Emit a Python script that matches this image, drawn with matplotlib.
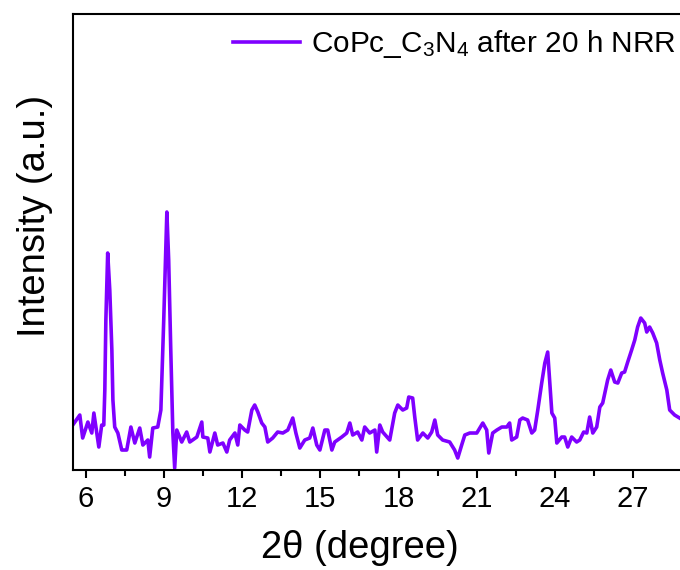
import numpy as np
import matplotlib
matplotlib.use('Agg')
import matplotlib.pyplot as plt

plt.rcParams['font.family'] = ['Liberation Sans', 'DejaVu Sans']
plt.rcParams['mathtext.default'] = 'regular'

# XRD pattern: 2theta (degree), intensity (a.u.)
two_theta = [5.50, 5.77, 5.88, 6.08, 6.23, 6.31, 6.50, 6.61, 6.69, 6.73, 6.77, 6.84, 6.92,
             7.00, 7.04, 7.11, 7.23, 7.38, 7.57, 7.73, 7.88, 8.07, 8.19, 8.38, 8.45, 8.57,
             8.76, 8.88, 8.99, 9.11, 9.18, 9.26, 9.34, 9.41, 9.49, 9.68, 9.87, 9.99, 10.26,
             10.45, 10.49, 10.68, 10.76, 10.95, 11.06, 11.26, 11.41, 11.52, 11.72, 11.83,
             11.91, 12.10, 12.21, 12.37, 12.48, 12.60, 12.75, 12.87, 12.98, 13.17, 13.36,
             13.56, 13.75, 13.94, 14.06, 14.21, 14.40, 14.59, 14.71, 14.86, 14.98, 15.17,
             15.28, 15.44, 15.55, 15.82, 16.01, 16.13, 16.24, 16.43, 16.59, 16.70, 16.89,
             17.09, 17.16, 17.28, 17.39, 17.66, 17.85, 17.97, 18.16, 18.31, 18.39, 18.54,
             18.62, 18.73, 18.93, 19.12, 19.27, 19.39, 19.50, 19.69, 19.96, 20.15, 20.27,
             20.42, 20.54, 20.73, 21.00, 21.23, 21.38, 21.46, 21.61, 21.77, 21.96, 22.15,
             22.26, 22.34, 22.53, 22.65, 22.76, 22.95, 23.11, 23.22, 23.34, 23.49, 23.61,
             23.72, 23.88, 23.99, 24.07, 24.26, 24.37, 24.49, 24.64, 24.83, 24.95, 25.10,
             25.22, 25.33, 25.45, 25.60, 25.72, 25.83, 26.02, 26.14, 26.29, 26.41, 26.56,
             26.67, 26.79, 26.94, 27.06, 27.17, 27.29, 27.44, 27.52, 27.63, 27.75, 27.90,
             28.02, 28.13, 28.29, 28.40, 28.59, 28.78]
intensity = [45, 55, 32, 48, 37, 57, 23, 45, 45, 80, 150, 217, 180,
             120, 70, 43, 37, 20, 20, 43, 27, 42, 25, 30, 13, 42,
             43, 60, 150, 258, 210, 120, 37, 2, 40, 28, 38, 28, 33,
             48, 33, 32, 18, 37, 25, 27, 18, 30, 37, 25,
             45, 40, 38, 60, 65, 58, 47, 43, 28, 32, 38,
             37, 40, 52, 37, 22, 30, 32, 42, 25, 20, 40,
             40, 20, 28, 33, 37, 47, 35, 38, 30, 43, 37,
             40, 18, 45, 38, 30, 57, 65, 60, 62, 73, 72,
             53, 30, 37, 32, 38, 50, 35, 30, 28, 20, 12,
             25, 35, 37, 37, 47, 40, 17, 37, 40, 43, 43,
             47, 30, 33, 50, 52, 50, 37, 40, 60, 87, 107,
             118, 57, 52, 27, 33, 33, 23, 33, 28, 30, 38,
             37, 53, 37, 43, 63, 67, 90, 100, 88, 87, 97,
             98, 108, 120, 130, 143, 152, 147, 138, 143, 137, 127,
             110, 97, 80, 60, 55, 52]

x_ticks = [6, 9, 12, 15, 18, 21, 24, 27]

fig = plt.figure(figsize=(6.8, 5.7), dpi=100)
# axes runs past the right edge, as in the cropped original
ax = fig.add_axes([0.107, 0.1754, 0.920, 0.800])

ax.plot(two_theta, intensity, color='#7F00FF', lw=2.6,
        label='CoPc_C$_3$N$_4$ after 20 h NRR')

ax.set_xlim(5.5, 29.5)
ax.set_ylim(0, 456)
ax.set_xticks(x_ticks)
ax.set_xticks(np.array(x_ticks[:-1]) + 1.5, minor=True)
ax.set_yticks([])
ax.tick_params(axis='x', which='major', direction='out', length=6, width=1.5,
               labelsize=21, pad=5)
ax.tick_params(axis='x', which='minor', direction='out', length=4, width=1.5)
for s in ax.spines.values():
    s.set_linewidth(1.5)

ax.set_xlabel('2θ (degree)', fontsize=27.5)
ax.set_ylabel('Intensity (a.u.)', fontsize=27.5)
ax.xaxis.set_label_coords(0.459, -0.132)
ax.yaxis.set_label_coords(-0.032, 0.557)

ax.legend(loc='upper left', bbox_to_anchor=(0.343, 0.951), bbox_transform=fig.transFigure,
          frameon=False, fontsize=21.4, handlelength=2.25, handletextpad=0.35,
          borderpad=0, borderaxespad=0)

fig.savefig('out.png', dpi=100)
